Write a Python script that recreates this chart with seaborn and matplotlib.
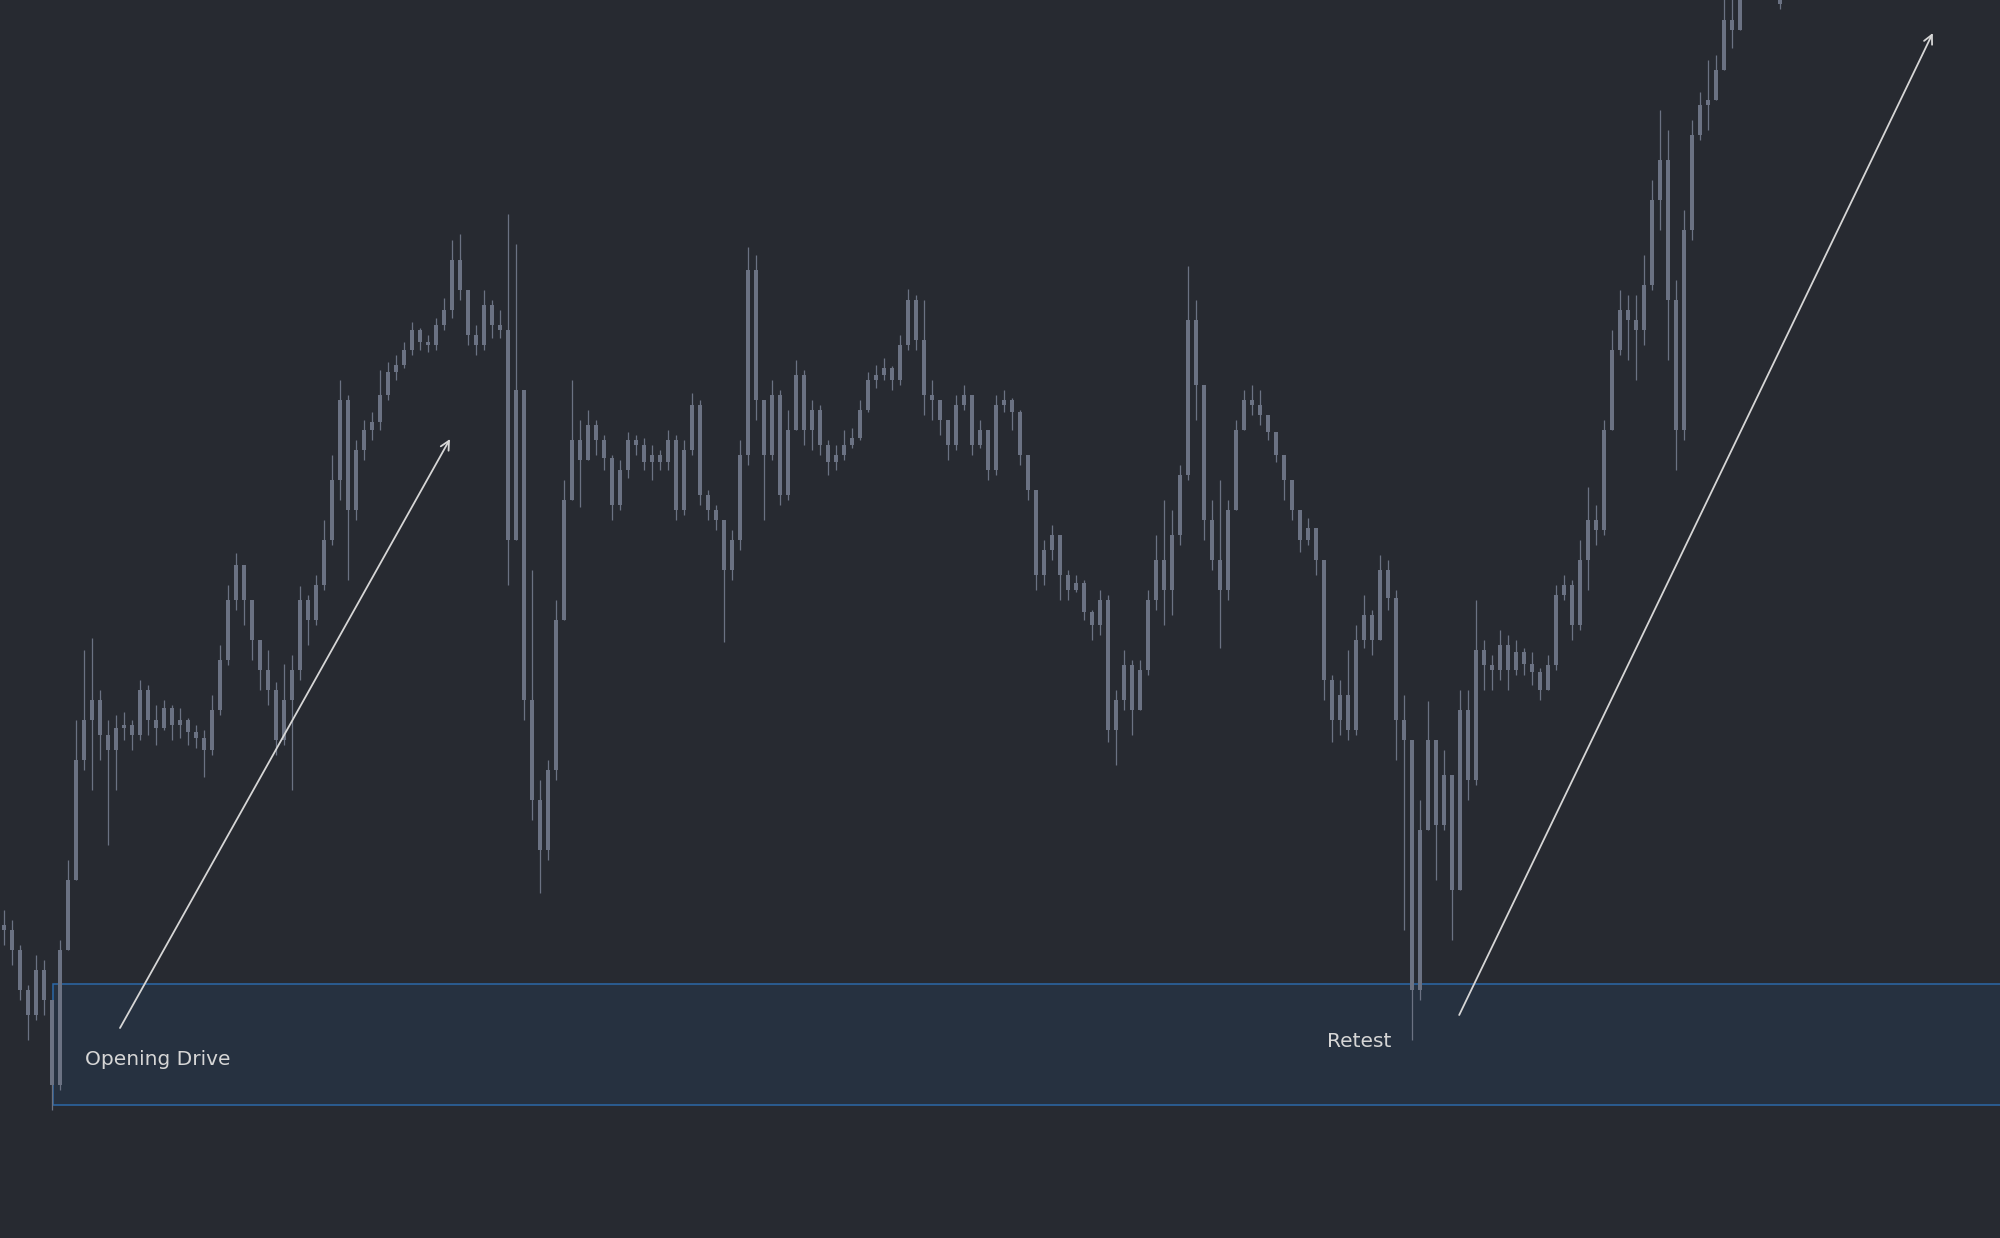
import numpy as np
import pandas as pd
import seaborn as sns
import matplotlib.pyplot as plt
from matplotlib.patches import Rectangle

sns.set_theme(style="dark")
plt.rcParams["font.family"] = ["DejaVu Sans"]

BG = "#272a31"
CANDLE = "#6b7283"
ZONE_FILL = "#263140"
ZONE_EDGE = "#2c68a8"
NOTE = "#d6d6d6"

# ----------------------------
# price data (one bar per candle, open = previous close)
# ----------------------------
first_open = 313

close = [308, 288, 248, 223, 268, 238, 153, 288, 358, 478,
         518, 538, 503, 488, 510, 513, 503, 548, 518, 510,
         530, 513, 518, 506, 500, 488, 528, 578, 638, 673,
         638, 598, 568, 548, 498, 538, 568, 638, 618, 653,
         698, 758, 838, 728, 788, 808, 816, 843, 866, 873,
         888, 908, 896, 893, 913, 928, 978, 948, 903, 893,
         933, 913, 908, 698, 848, 538, 438, 388, 468, 618,
         738, 798, 778, 813, 798, 780, 733, 768, 798, 793,
         776, 783, 776, 798, 728, 788, 833, 743, 728, 718,
         668, 698, 783, 968, 838, 783, 843, 743, 808, 863,
         808, 828, 793, 776, 783, 793, 800, 828, 858, 863,
         870, 858, 893, 938, 898, 843, 838, 818, 793, 833,
         843, 793, 808, 768, 833, 838, 826, 783, 748, 663,
         688, 703, 663, 648, 655, 626, 613, 638, 508, 538,
         573, 528, 568, 638, 678, 648, 703, 763, 918, 853,
         718, 678, 648, 728, 808, 838, 833, 823, 806, 783,
         758, 728, 698, 710, 678, 558, 518, 543, 508, 598,
         623, 598, 668, 640, 518, 498, 248, 408, 498, 413,
         463, 348, 528, 458, 588, 573, 568, 593, 568, 586,
         574, 566, 548, 573, 643, 653, 613, 678, 718, 708,
         808, 888, 928, 918, 908, 953, 1038, 1078, 938, 808,
         1008, 1103, 1133, 1138, 1168, 1218, 1208, 1253, 1268, 1278,
         1273, 1253, 1234]

high = [328, 318, 293, 253, 283, 278, 178, 298, 378, 518,
        588, 600, 548, 518, 523, 526, 518, 558, 553, 533,
        538, 533, 530, 520, 513, 508, 543, 593, 653, 685,
        673, 638, 598, 588, 556, 574, 583, 652, 643, 663,
        718, 783, 858, 843, 798, 818, 826, 868, 876, 883,
        896, 916, 910, 903, 920, 940, 998, 1004, 948, 913,
        948, 938, 928, 1024, 994, 808, 668, 458, 478, 638,
        758, 858, 818, 828, 818, 803, 783, 778, 806, 803,
        800, 793, 788, 808, 803, 798, 845, 838, 748, 733,
        718, 708, 798, 991, 983, 838, 858, 848, 828, 878,
        868, 838, 833, 798, 793, 808, 810, 838, 866, 873,
        880, 872, 903, 949, 943, 938, 858, 833, 818, 843,
        853, 843, 818, 808, 843, 848, 840, 828, 783, 748,
        698, 713, 703, 668, 663, 658, 628, 648, 643, 548,
        588, 578, 578, 648, 703, 738, 728, 773, 972, 938,
        853, 738, 758, 738, 818, 848, 853, 848, 820, 803,
        783, 758, 728, 720, 708, 678, 563, 558, 588, 613,
        643, 628, 683, 678, 648, 543, 498, 438, 537, 498,
        488, 458, 548, 548, 638, 598, 583, 608, 603, 598,
        590, 586, 570, 583, 653, 663, 658, 698, 751, 733,
        818, 908, 948, 943, 943, 983, 1058, 1128, 1108, 958,
        1028, 1118, 1146, 1178, 1183, 1243, 1248, 1273, 1288, 1298,
        1293, 1278, 1258]

low = [293, 273, 238, 198, 218, 223, 128, 148, 288, 358,
       468, 448, 478, 393, 448, 498, 488, 498, 503, 493,
       508, 498, 500, 493, 490, 461, 483, 523, 573, 628,
       613, 578, 548, 533, 483, 493, 448, 558, 593, 613,
       648, 693, 738, 658, 718, 778, 798, 808, 838, 858,
       870, 883, 888, 886, 888, 908, 920, 938, 893, 883,
       888, 900, 900, 653, 758, 518, 418, 345, 378, 458,
       618, 738, 731, 783, 783, 768, 718, 728, 760, 783,
       768, 758, 768, 768, 718, 723, 783, 733, 718, 708,
       596, 658, 688, 773, 818, 718, 778, 733, 738, 808,
       793, 788, 783, 763, 768, 778, 790, 798, 826, 850,
       858, 848, 853, 888, 888, 823, 818, 803, 778, 788,
       828, 783, 790, 758, 763, 826, 808, 773, 738, 648,
       653, 678, 638, 638, 646, 618, 598, 603, 496, 473,
       528, 503, 548, 563, 628, 613, 623, 693, 758, 818,
       698, 668, 590, 638, 728, 808, 823, 813, 798, 776,
       738, 718, 686, 693, 663, 538, 496, 503, 498, 503,
       590, 583, 598, 628, 478, 308, 198, 238, 408, 358,
       408, 298, 358, 438, 453, 548, 548, 558, 548, 563,
       563, 553, 538, 548, 568, 638, 598, 608, 648, 693,
       703, 808, 883, 878, 858, 893, 948, 1008, 878, 768,
       798, 998, 1098, 1108, 1138, 1198, 1190, 1218, 1240, 1258,
       1253, 1243, 1229]

# demand zone and notes
zone_top = 254
zone_bottom = 133
zone_start = 6.1
notes = ["Opening Drive", "Retest"]
note_pos = [(10.1, 173), (165.4, 191)]
arrows = [((14.5, 210), (55.75, 799)), ((181.9, 223), (241.1, 1205))]

df = pd.DataFrame({"close": close, "high": high, "low": low})
df["open"] = [first_open] + close[:-1]
df["bar"] = np.arange(len(df))
df["top"] = df[["open", "close", "high"]].max(axis=1)
df["bottom"] = df[["open", "close", "low"]].min(axis=1)
df["body_lo"] = df[["open", "close"]].min(axis=1)
df["body_h"] = (df["open"] - df["close"]).abs().clip(lower=2)

fig = plt.figure(figsize=(20, 12.38), dpi=100, facecolor=BG)
ax = fig.add_axes([0, 0, 1, 1])
ax.set_facecolor(BG)

ax.add_patch(Rectangle((zone_start, zone_bottom), 300, zone_top - zone_bottom,
                       facecolor=ZONE_FILL, edgecolor=ZONE_EDGE, lw=1.1, zorder=1))

ax.vlines(df["bar"], df["bottom"], df["top"], color=CANDLE, lw=0.9, zorder=2)
ax.bar(df["bar"], df["body_h"], bottom=df["body_lo"], width=0.6,
       color=CANDLE, edgecolor="none", zorder=3)

for (x0, y0), (x1, y1) in arrows:
    ax.annotate("", xy=(x1, y1), xytext=(x0, y0),
                arrowprops=dict(arrowstyle="->", color=NOTE, lw=1.3,
                                mutation_scale=16, shrinkA=0, shrinkB=0),
                zorder=4)

for txt, (x, y) in zip(notes, note_pos):
    ax.text(x, y, txt, color=NOTE, fontsize=14.5, ha="left", va="baseline", zorder=5)

ax.set_xlim(-0.5, 249.5)
ax.set_ylim(0, 1238)
ax.set_axis_off()

plt.savefig("out.png", dpi=100, facecolor=BG)
